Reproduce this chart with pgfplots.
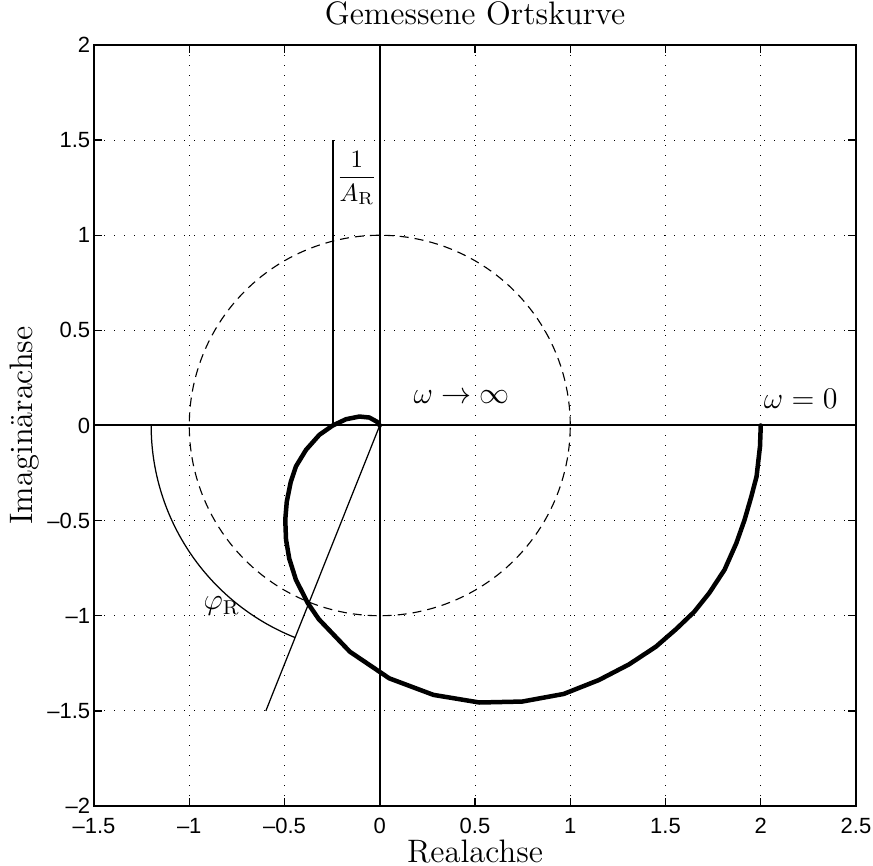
\documentclass[border=0pt]{standalone}
\usepackage{fontspec}
\usepackage{pgfplots}
\pgfplotsset{compat=1.18}
\newfontfamily\helv{Liberation Sans}

% measured frequency response (Nyquist locus), from omega = 0 to omega -> infinity
\pgfplotstableread{
re      im
2.000   0.000
1.996  -0.110
1.978  -0.268
1.950  -0.375
1.915  -0.496
1.872  -0.618
1.810  -0.758
1.730  -0.880
1.650  -0.980
1.556  -1.070
1.449  -1.163
1.308  -1.256
1.150  -1.338
0.966  -1.411
0.748  -1.451
0.523  -1.456
0.282  -1.416
0.050  -1.329
-0.157 -1.189
-0.320 -1.018
-0.378 -0.933
-0.440 -0.811
-0.475 -0.700
-0.492 -0.600
-0.496 -0.496
-0.488 -0.400
-0.468 -0.300
-0.440 -0.215
-0.387 -0.128
-0.317 -0.049
-0.247  0.000
-0.177  0.033
-0.107  0.047
-0.055  0.042
-0.015  0.020
0.000   0.000
}\ortskurve

\newcommand\labelsize{\fontsize{13}{15}\selectfont}

\begin{document}
\begin{tikzpicture}
\begin{axis}[
  scale only axis,
  width=304.8pt, height=304.4pt,
  xmin=-1.5, xmax=2.5, ymin=-2, ymax=2,
  xtick={-1.5,-1,-0.5,0,0.5,1,1.5,2,2.5},
  xticklabels={–1.5,–1,–0.5,0,0.5,1,1.5,2,2.5},
  ytick={-2,-1.5,-1,-0.5,0,0.5,1,1.5,2},
  yticklabels={–2,–1.5,–1,–0.5,0,0.5,1,1.5,2},
  tick align=inside,
  major tick length=3.2pt,
  tick style={black, line width=0.5pt},
  ticklabel style={font=\helv\fontsize{8.8}{10}\selectfont},
  xticklabel style={inner sep=1pt, yshift=-3.8pt},
  yticklabel style={xshift=2pt},
  axis line style={line width=0.7pt},
  grid=major,
  major grid style={black, line width=0.4pt, dash pattern=on 0.4pt off 3.6pt},
  title={\labelsize Gemessene Ortskurve},
  title style={yshift=-1.5pt},
  xlabel={\labelsize Realachse},
  ylabel={\labelsize Imaginärachse},
  xlabel style={at={(axis description cs:0.5,0)}, anchor=base,
                yshift=-22.4pt, inner sep=0pt},
  ylabel shift=-3.5pt,
  clip=true,
]
% coordinate axes through the origin
\addplot[black, line width=0.8pt] coordinates {(-1.5,0) (2.5,0)};
\addplot[black, line width=0.8pt] coordinates {(0,-2) (0,2)};
% unit circle
\addplot[black, line width=0.45pt, dash pattern=on 3.6pt off 2.4pt,
         domain=0:360, samples=181] ({cos(x)},{sin(x)});
% 1/A_R marker at the crossing of the negative real axis
\addplot[black, line width=0.5pt] coordinates {(-0.245,0) (-0.245,1.5)};
% phase margin line and arc
\addplot[black, line width=0.5pt] coordinates {(0,0) (-0.598,-1.5)};
\addplot[black, line width=0.5pt, domain=180:248.26, samples=60]
        ({1.2*cos(x)},{1.2*sin(x)});
% measured locus
\addplot[black, line width=1.8pt, line join=round, line cap=round]
        table[x=re, y=im] {\ortskurve};

\node[font=\large] at (axis cs:0.43,0.15) {$\omega\rightarrow\infty$};
\node[font=\large] at (axis cs:2.21,0.14) {$\omega=0$};
\node[font=\large] at (axis cs:-0.83,-0.95) {$\varphi_{\mathrm{R}}$};
\node at (axis cs:-0.12,1.30) {$\displaystyle\frac{1}{A_{\mathrm{R}}}$};
\end{axis}
\pgfresetboundingbox
\path[use as bounding box]
  ([xshift=-37.6pt,yshift=-24pt]current axis.south west) rectangle
  ([xshift=6.8pt,yshift=18pt]current axis.north east);
\end{tikzpicture}
\end{document}
